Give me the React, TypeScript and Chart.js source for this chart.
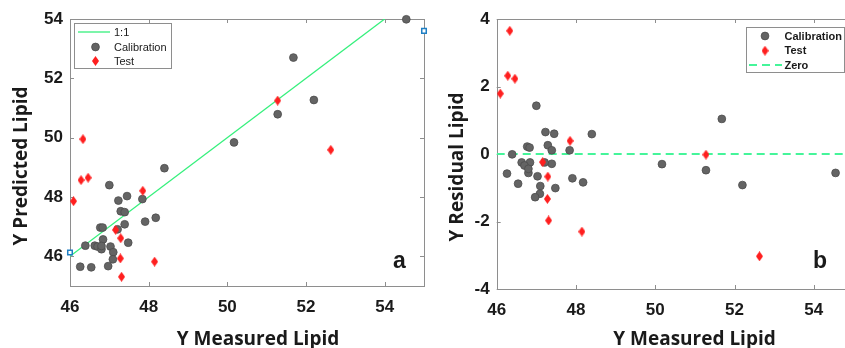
import React, { useEffect, useRef } from "react";
import { Chart, registerables } from "chart.js";

Chart.register(...registerables);

// ---------- data ----------
const calMeasured = [
  54.55, 51.68, 52.2, 51.28, 50.17, 48.4, 47.0, 47.45, 47.23, 47.84, 47.29,
  47.39, 47.91, 48.18, 47.39, 46.77, 46.83, 47.21, 46.84, 47.48, 46.39, 46.63,
  46.7, 46.8, 46.8, 47.03, 47.1, 47.09, 46.97, 46.26, 46.54,
];
const calPredicted = [
  53.99, 52.7, 51.27, 50.79, 49.84, 48.97, 48.4, 48.03, 47.88, 47.93, 47.52,
  47.49, 47.17, 47.3, 47.08, 46.97, 46.97, 46.91, 46.57, 46.46, 46.36, 46.36,
  46.33, 46.24, 46.35, 46.33, 46.14, 45.9, 45.67, 45.65, 45.63,
];
const calResidual = [
  -0.56, 1.04, -0.92, -0.48, -0.3, 0.59, 1.43, 0.6, 0.65, 0.11, 0.26, 0.11,
  -0.72, -0.84, -0.29, 0.22, 0.19, -0.25, -0.25, -1.01, -0.01, -0.25, -0.34,
  -0.56, -0.44, -0.66, -0.95, -1.18, -1.28, -0.58, -0.88,
];
const testMeasured = [
  51.28, 52.63, 46.33, 46.28, 46.46, 46.09, 47.85, 47.16, 47.29, 47.28, 47.31,
  48.15,
];
const testPredicted = [
  51.25, 49.59, 49.95, 48.57, 48.65, 47.86, 48.21, 46.89, 46.61, 45.93, 45.31,
  45.82,
];
const testResidual = [
  -0.02, -3.03, 3.65, 2.32, 2.23, 1.79, 0.39, -0.24, -0.67, -1.33, -1.97,
  -2.3,
];
const oneToOneX = [46, 54];
const oneToOneY = [46, 54];
const markerX = [46, 55];
const markerY = [46.13, 53.6];
const zeroX = [46, 55];
const zeroY = [0, 0];

const xTicks = [46, 48, 50, 52, 54];
const yTicksA = [46, 48, 50, 52, 54];
const yTicksB = [-4, -2, 0, 2, 4];

const GRAY = "#646464";
const GRAY_EDGE = "#4c4c4c";
const RED = "#ff1f1f";
const GREEN = "#35f07c";
const GREEN_DASH = "#45f59a";
const FRAME = "#8e8e8e";
const TEXT = "#1a1a1a";

const pts = (xs: number[], ys: number[]) => xs.map((x, i) => ({ x, y: ys[i] }));

function makeDiamond(w: number, h: number, color: string) {
  const c = document.createElement("canvas");
  c.width = w;
  c.height = h;
  const g = c.getContext("2d")!;
  g.fillStyle = color;
  g.beginPath();
  g.moveTo(w / 2, 0);
  g.lineTo(w, h / 2);
  g.lineTo(w / 2, h);
  g.lineTo(0, h / 2);
  g.closePath();
  g.fill();
  return c;
}

type LegendItem = { kind: "line" | "dash" | "circle" | "diamond"; label: string; y: number };
type PanelCfg = {
  xTitle: string;
  yTitle: string;
  xTitlePos: [number, number];
  yTitlePos: [number, number];
  letter: string;
  letterPos: [number, number];
  legendBox: [number, number, number, number];
  legendItems: LegendItem[];
  legendMarkerX: number;
  legendLine: [number, number];
  legendTextX: number;
  legendFont: string;
  yTicks: number[];
};

function makePlugin(cfg: PanelCfg, diamond: HTMLCanvasElement) {
  return {
    id: "frame",
    beforeDatasetsDraw(chart: any) {
      const { ctx, chartArea: a, scales } = chart;
      ctx.save();
      ctx.strokeStyle = FRAME;
      ctx.lineWidth = 1;
      ctx.strokeRect(Math.round(a.left) + 0.5, Math.round(a.top) + 0.5, Math.round(a.right - a.left), Math.round(a.bottom - a.top));
      const tl = 4;
      ctx.beginPath();
      xTicks.forEach((v) => {
        const px = Math.round(scales.x.getPixelForValue(v)) + 0.5;
        ctx.moveTo(px, a.bottom);
        ctx.lineTo(px, a.bottom - tl);
        ctx.moveTo(px, a.top);
        ctx.lineTo(px, a.top + tl);
      });
      cfg.yTicks.forEach((v) => {
        const py = Math.round(scales.y.getPixelForValue(v)) + 0.5;
        ctx.moveTo(a.left, py);
        ctx.lineTo(a.left + tl, py);
        ctx.moveTo(a.right, py);
        ctx.lineTo(a.right - tl, py);
      });
      ctx.stroke();
      ctx.restore();
    },
    afterDraw(chart: any) {
      const { ctx } = chart;
      ctx.save();
      // axis titles
      ctx.fillStyle = TEXT;
      ctx.font = 'bold 19px "Open Sans"';
      ctx.textAlign = "center";
      ctx.textBaseline = "alphabetic";
      ctx.fillText(cfg.xTitle, cfg.xTitlePos[0], cfg.xTitlePos[1]);
      ctx.save();
      ctx.translate(cfg.yTitlePos[0], cfg.yTitlePos[1]);
      ctx.rotate(-Math.PI / 2);
      ctx.fillText(cfg.yTitle, 0, 0);
      ctx.restore();
      // panel letter
      ctx.font = 'bold 23px "Liberation Sans"';
      ctx.fillText(cfg.letter, cfg.letterPos[0], cfg.letterPos[1]);
      // legend
      const [bx, by, bw, bh] = cfg.legendBox;
      ctx.fillStyle = "#ffffff";
      ctx.fillRect(bx, by, bw, bh);
      ctx.strokeStyle = FRAME;
      ctx.lineWidth = 1;
      ctx.strokeRect(bx + 0.5, by + 0.5, bw, bh);
      ctx.font = cfg.legendFont;
      ctx.textAlign = "left";
      ctx.textBaseline = "middle";
      cfg.legendItems.forEach((it) => {
        if (it.kind === "line" || it.kind === "dash") {
          ctx.save();
          ctx.strokeStyle = it.kind === "line" ? GREEN : GREEN_DASH;
          ctx.lineWidth = it.kind === "line" ? 1.3 : 1.8;
          ctx.setLineDash(it.kind === "dash" ? [8, 5] : []);
          ctx.beginPath();
          ctx.moveTo(cfg.legendLine[0], it.y);
          ctx.lineTo(cfg.legendLine[1], it.y);
          ctx.stroke();
          ctx.restore();
        } else if (it.kind === "circle") {
          ctx.beginPath();
          ctx.arc(cfg.legendMarkerX, it.y, 3.9, 0, Math.PI * 2);
          ctx.fillStyle = GRAY;
          ctx.fill();
          ctx.strokeStyle = GRAY_EDGE;
          ctx.lineWidth = 0.8;
          ctx.stroke();
        } else {
          ctx.drawImage(diamond, cfg.legendMarkerX - diamond.width / 2, it.y - diamond.height / 2);
        }
        ctx.fillStyle = TEXT;
        ctx.fillText(it.label, cfg.legendTextX, it.y + 0.5);
      });
      ctx.restore();
    },
  };
}

function baseScales(yMin: number, yMax: number, yTicks: number[], yWidth: number, xHeight: number) {
  const tickFont = { family: '"Liberation Sans", Arial, sans-serif', weight: "bold" as const, size: 17 };
  return {
    x: {
      type: "linear" as const,
      min: 46,
      max: 55,
      grid: { display: false, drawTicks: false },
      border: { display: false },
      ticks: { font: tickFont, color: TEXT, padding: 11, maxRotation: 0 },
      afterBuildTicks: (s: any) => {
        s.ticks = xTicks.map((v) => ({ value: v }));
      },
      afterFit: (s: any) => {
        s.height = xHeight;
      },
    },
    y: {
      type: "linear" as const,
      min: yMin,
      max: yMax,
      grid: { display: false, drawTicks: false },
      border: { display: false },
      ticks: { font: tickFont, color: TEXT, padding: 7 },
      afterBuildTicks: (s: any) => {
        s.ticks = yTicks.map((v) => ({ value: v }));
      },
      afterFit: (s: any) => {
        s.width = yWidth;
      },
    },
  };
}

export default function App() {
  const refA = useRef<HTMLCanvasElement>(null);
  const refB = useRef<HTMLCanvasElement>(null);

  useEffect(() => {
    const diamond = makeDiamond(7, 10, RED);
    const calStyle = {
      pointStyle: "circle" as const,
      pointRadius: 3.9,
      pointBackgroundColor: GRAY,
      pointBorderColor: GRAY_EDGE,
      pointBorderWidth: 0.8,
      showLine: false,
      clip: false as const,
    };
    const testStyle = {
      pointStyle: diamond as any,
      pointRadius: 5,
      showLine: false,
      clip: false as const,
    };

    const cfgA: PanelCfg = {
      xTitle: "Y Measured Lipid",
      yTitle: "Y Predicted Lipid",
      xTitlePos: [258, 345],
      yTitlePos: [27, 166],
      letter: "a",
      letterPos: [399.5, 268],
      legendBox: [74, 23, 97, 45],
      legendItems: [
        { kind: "line", label: "1:1", y: 32 },
        { kind: "circle", label: "Calibration", y: 47 },
        { kind: "diamond", label: "Test", y: 61 },
      ],
      legendMarkerX: 95.5,
      legendLine: [78, 110],
      legendTextX: 114,
      legendFont: '11px "Liberation Sans", Arial, sans-serif',
      yTicks: yTicksA,
    };
    const cfgB: PanelCfg = {
      xTitle: "Y Measured Lipid",
      yTitle: "Y Residual Lipid",
      xTitlePos: [274.5, 345],
      yTitlePos: [43, 167],
      letter: "b",
      letterPos: [400, 268],
      legendBox: [326, 27, 98, 45],
      legendItems: [
        { kind: "circle", label: "Calibration", y: 36 },
        { kind: "diamond", label: "Test", y: 50.7 },
        { kind: "dash", label: "Zero", y: 65 },
      ],
      legendMarkerX: 345,
      legendLine: [329, 362],
      legendTextX: 364.5,
      legendFont: 'bold 11px "Liberation Sans", Arial, sans-serif',
      yTicks: yTicksB,
    };

    const chartA = new Chart(refA.current!, {
      type: "scatter",
      data: {
        datasets: [
          {
            label: "marker",
            data: pts(markerX, markerY),
            pointStyle: "rect",
            pointRadius: 3.2,
            pointBackgroundColor: "#ffffff",
            pointBorderColor: "#1f7fc4",
            pointBorderWidth: 1.5,
            showLine: false,
            clip: false,
            order: 0,
          } as any,
          { label: "Test", data: pts(testMeasured, testPredicted), ...testStyle, order: 1 } as any,
          { label: "Calibration", data: pts(calMeasured, calPredicted), ...calStyle, order: 2 } as any,
          {
            label: "1:1",
            data: pts(oneToOneX, oneToOneY),
            showLine: true,
            borderColor: GREEN,
            borderWidth: 1.3,
            pointRadius: 0,
            order: 3,
          } as any,
        ],
      },
      options: {
        responsive: false,
        animation: false,
        events: [],
        layout: { padding: { left: 0, top: 19, right: 3, bottom: 0 } },
        plugins: { legend: { display: false }, tooltip: { enabled: false } },
        scales: baseScales(45, 54, yTicksA, 70, 62) as any,
      },
      plugins: [makePlugin(cfgA, diamond)],
    });

    const chartB = new Chart(refB.current!, {
      type: "scatter",
      data: {
        datasets: [
          { label: "Test", data: pts(testMeasured, testResidual), ...testStyle, order: 1 } as any,
          { label: "Calibration", data: pts(calMeasured, calResidual), ...calStyle, order: 2 } as any,
          {
            label: "Zero",
            data: pts(zeroX, zeroY),
            showLine: true,
            borderColor: GREEN_DASH,
            borderWidth: 1.8,
            borderDash: [8, 5],
            pointRadius: 0,
            order: 3,
          } as any,
        ],
      },
      options: {
        responsive: false,
        animation: false,
        events: [],
        layout: { padding: { left: 0, top: 19, right: 6.6, bottom: 0 } },
        plugins: { legend: { display: false }, tooltip: { enabled: false } },
        scales: baseScales(-4, 4, yTicksB, 76.7, 59) as any,
      },
      plugins: [makePlugin(cfgB, diamond)],
    });

    return () => {
      chartA.destroy();
      chartB.destroy();
    };
  }, []);

  return (
    <div
      style={{
        position: "fixed",
        left: 0,
        top: 0,
        width: 845,
        height: 348,
        overflow: "hidden",
        background: "#ffffff",
      }}
    >
      <canvas ref={refA} width={430} height={348} style={{ position: "absolute", left: 0, top: 0 }} />
      <canvas ref={refB} width={440} height={348} style={{ position: "absolute", left: 420, top: 0 }} />
    </div>
  );
}
